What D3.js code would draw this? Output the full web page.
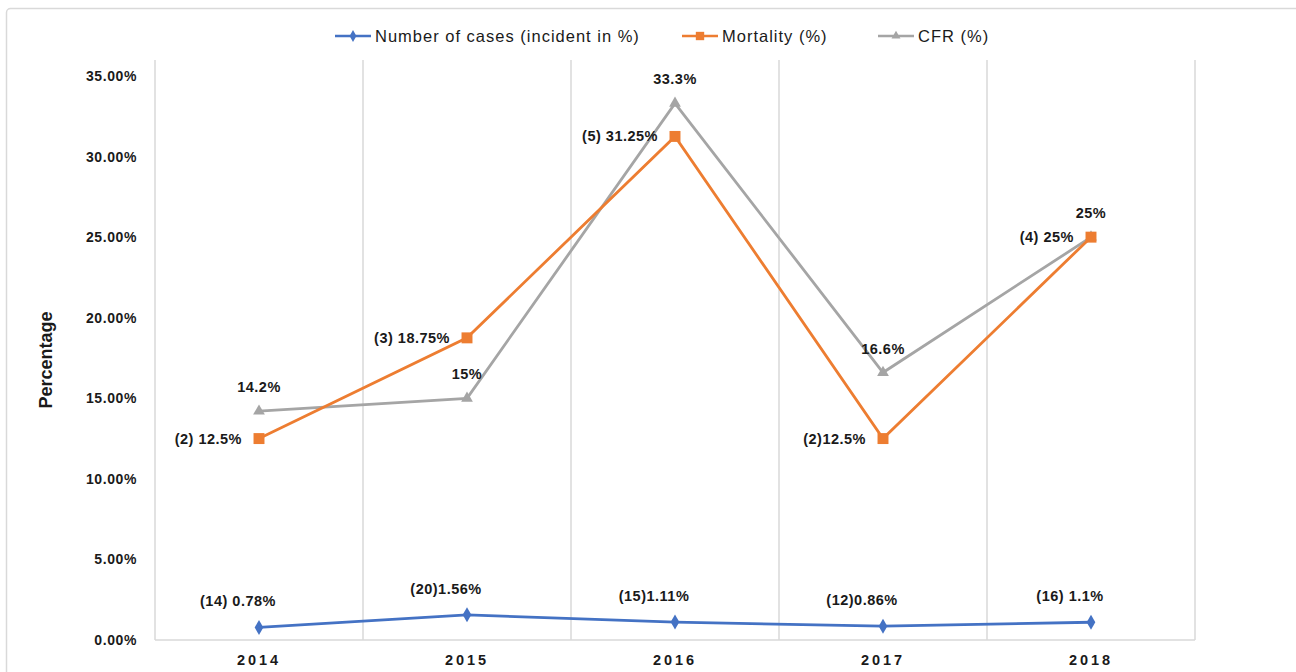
<!DOCTYPE html>
<html>
<head>
<meta charset="utf-8">
<script src="https://cdn.jsdelivr.net/npm/d3@7"></script>
<style>
  body { margin: 0; background: #fff; }
  text { font-family: "Liberation Sans", Arial, sans-serif; fill: #1a1a1a; }
</style>
</head>
<body>
<div class="chart"></div>
<script>
var years = ['2014', '2015', '2016', '2017', '2018'];
var yTicks = [0, 5, 10, 15, 20, 25, 30, 35];

var casesValues = [0.78, 1.56, 1.11, 0.86, 1.1];
var casesLabels = ['(14) 0.78%', '(20)1.56%', '(15)1.11%', '(12)0.86%', '(16) 1.1%'];

var mortalityValues = [12.5, 18.75, 31.25, 12.5, 25];
var mortalityLabels = ['(2) 12.5%', '(3) 18.75%', '(5) 31.25%', '(2)12.5%', '(4) 25%'];

var cfrValues = [14.2, 15, 33.3, 16.6, 25];
var cfrLabels = ['14.2%', '15%', '33.3%', '16.6%', '25%'];

var width = 1296,
    height = 672,
    plotLeft = 155,
    plotRight = 1195,
    plotTop = 76,
    plotBottom = 640;

var blue = '#4472c4',
    orange = '#ed7d31',
    grey = '#a5a5a5',
    gridColor = '#d9d9d9';

var svg = d3.select('.chart').append('svg')
    .attr('width', width)
    .attr('height', height)
    .style('display', 'block')
    .style('background', 'white');

// outer chart border
svg.append('rect')
    .attr('x', 6.5)
    .attr('y', 8.5)
    .attr('width', 1320)
    .attr('height', 700)
    .attr('rx', 4)
    .attr('fill', 'none')
    .attr('stroke', gridColor)
    .attr('stroke-width', 1.5);

var x = d3.scaleBand().domain(years).range([plotLeft, plotRight]);
var y = d3.scaleLinear().domain([0, 35]).range([plotBottom, plotTop]);

//vertical gridlines at the category edges
svg.append('g').selectAll('line')
    .data(d3.range(years.length + 1))
    .enter().append('line')
        .attr('x1', function(i) { return plotLeft + i * x.bandwidth(); })
        .attr('x2', function(i) { return plotLeft + i * x.bandwidth(); })
        .attr('y1', y(35) - 16)
        .attr('y2', plotBottom)
        .attr('stroke', gridColor)
        .attr('stroke-width', 1.5);

svg.append('line')
    .attr('x1', plotLeft).attr('x2', plotRight)
    .attr('y1', plotBottom).attr('y2', plotBottom)
    .attr('stroke', gridColor)
    .attr('stroke-width', 1.5);

// y axis labels
var yAxis = d3.axisLeft(y)
    .tickValues(yTicks)
    .tickSize(0)
    .tickPadding(18)
    .tickFormat(function(d) { return d.toFixed(2) + '%'; });

svg.append('g')
    .attr('transform', 'translate(' + plotLeft + ',0)')
    .call(yAxis)
    .call(function(g) { g.select('.domain').remove(); })
    .selectAll('text')
        .style('font-family', '"Liberation Sans", Arial, sans-serif')
        .style('font-size', '14px')
        .style('font-weight', 'bold')
        .style('letter-spacing', '0.6px')
        .attr('fill', '#1a1a1a');

// x axis labels
var xAxis = d3.axisBottom(x).tickSize(0).tickPadding(15);
svg.append('g')
    .attr('transform', 'translate(0,' + plotBottom + ')')
    .call(xAxis)
    .call(function(g) { g.select('.domain').remove(); })
    .selectAll('text')
        .style('font-family', '"Liberation Sans", Arial, sans-serif')
        .style('font-size', '14.5px')
        .style('font-weight', 'bold')
        .style('letter-spacing', '3px')
        .attr('fill', '#1a1a1a');

// y title
svg.append('text')
    .text('Percentage')
    .attr('transform', 'translate(52,' + ((plotTop + plotBottom) / 2 + 2) + ') rotate(-90)')
    .attr('text-anchor', 'middle')
    .style('font-size', '18px')
    .style('font-weight', 'bold');

var xc = function(i) { return x(years[i]) + x.bandwidth() / 2; };

var line = d3.line()
    .x(function(d, i) { return xc(i); })
    .y(function(d) { return y(d); });

function drawSeries(values, color, symbol, size) {
    svg.append('path')
        .datum(values)
        .attr('d', line)
        .attr('fill', 'none')
        .attr('stroke', color)
        .attr('stroke-width', 2.8);

    svg.append('g').selectAll('path')
        .data(values)
        .enter().append('path')
            .attr('d', d3.symbol().type(symbol).size(size))
            .attr('transform', function(d, i) {
                return 'translate(' + xc(i) + ',' + y(d) + ')';
            })
            .attr('fill', color);
}

drawSeries(cfrValues, grey, d3.symbolTriangle, 60);
drawSeries(mortalityValues, orange, d3.symbolSquare, 120);
drawSeries(casesValues, blue, d3.symbolDiamond, 65);

function drawLabels(values, labels, dx, dy, anchor) {
    svg.append('g').selectAll('text')
        .data(values)
        .enter().append('text')
            .text(function(d, i) { return labels[i]; })
            .attr('x', function(d, i) { return xc(i) + dx; })
            .attr('y', function(d) { return y(d) + dy; })
            .attr('text-anchor', anchor)
            .style('font-size', '14.5px')
            .style('font-weight', 'bold')
            .style('letter-spacing', '0.5px');
}

drawLabels(casesValues, casesLabels, -21, -21, 'middle');
drawLabels(mortalityValues, mortalityLabels, -17, 5, 'end');
drawLabels(cfrValues, cfrLabels, 0, -19, 'middle');

// legend
var legendItems = [
    { name: 'Number of cases (incident in %)', color: blue, symbol: d3.symbolDiamond, size: 40, x: 335 },
    { name: 'Mortality (%)', color: orange, symbol: d3.symbolSquare, size: 70, x: 682 },
    { name: 'CFR (%)', color: grey, symbol: d3.symbolTriangle, size: 35, x: 878 }
];

var legend = svg.append('g').selectAll('g')
    .data(legendItems)
    .enter().append('g')
        .attr('transform', function(d) { return 'translate(' + d.x + ',36)'; });

legend.append('line')
    .attr('x1', 0).attr('x2', 36)
    .attr('stroke', function(d) { return d.color; })
    .attr('stroke-width', 2.5);

legend.append('path')
    .attr('d', function(d) { return d3.symbol().type(d.symbol).size(d.size)(); })
    .attr('transform', 'translate(18,0)')
    .attr('fill', function(d) { return d.color; });

legend.append('text')
    .text(function(d) { return d.name; })
    .attr('x', 40)
    .attr('y', 5.5)
    .style('font-size', '16.5px')
    .style('letter-spacing', '1px');
</script>
</body>
</html>
